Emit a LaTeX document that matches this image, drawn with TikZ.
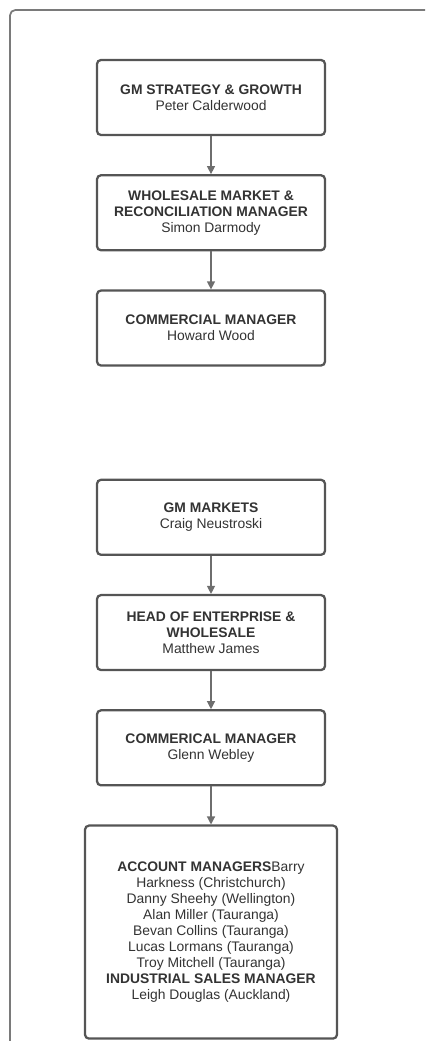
\documentclass[tikz,border=0pt]{standalone}
\usepackage{fontspec}
\setmainfont{Liberation Sans}
\usetikzlibrary{positioning, arrows.meta}
\definecolor{boxgray}{HTML}{555555}
\definecolor{framegray}{HTML}{7A7A7A}
\definecolor{textgray}{HTML}{333333}

\begin{document}
\begin{tikzpicture}[x=0.75pt, y=-0.75pt,
	font=\fontsize{10.4}{12}\selectfont,
	role/.style={draw=boxgray, line width=1.7pt, rounded corners=3pt, fill=white,
		text=textgray, align=center, minimum width=171pt, minimum height=56.25pt},
	link/.style={draw=boxgray!85, line width=0.9pt, -{Triangle[length=6pt,width=6pt]}},
	node distance=28.5pt]
\useasboundingbox (0,0) rectangle (425,1041);
\clip (0,0) rectangle (425,1041);
\draw[framegray, line width=1.3pt, rounded corners=4pt] (10,10) rectangle (490,1090);

\node[role] (strat) at (211,97.5) {\textbf{GM STRATEGY \& GROWTH}\\Peter Calderwood};
\node[role, below=of strat] (whole) {\textbf{WHOLESALE MARKET \&}\\\textbf{RECONCILIATION MANAGER}\\Simon Darmody};
\node[role, below=of whole] (comm) {\textbf{COMMERCIAL MANAGER}\\Howard Wood};

\node[role, below=84pt of comm] (markets) {\textbf{GM MARKETS}\\Craig Neustroski};
\node[role, below=of markets] (enterp) {\textbf{HEAD OF ENTERPRISE \&}\\\textbf{WHOLESALE}\\Matthew James};
\node[role, below=of enterp] (commer) {\textbf{COMMERICAL MANAGER}\\Glenn Webley};
\node[role, below=of commer, minimum width=189pt, minimum height=159.75pt] (accts)
	{\textbf{ACCOUNT MANAGERS}Barry\\Harkness (Christchurch)\\Danny Sheehy (Wellington)\\
	Alan Miller (Tauranga)\\Bevan Collins (Tauranga)\\Lucas Lormans (Tauranga)\\
	Troy Mitchell (Tauranga)\\\textbf{INDUSTRIAL SALES MANAGER}\\Leigh Douglas (Auckland)};

\draw[link] (strat) -- (whole);
\draw[link] (whole) -- (comm);
\draw[link] (markets) -- (enterp);
\draw[link] (enterp) -- (commer);
\draw[link] (commer) -- (accts);
\end{tikzpicture}
\end{document}
